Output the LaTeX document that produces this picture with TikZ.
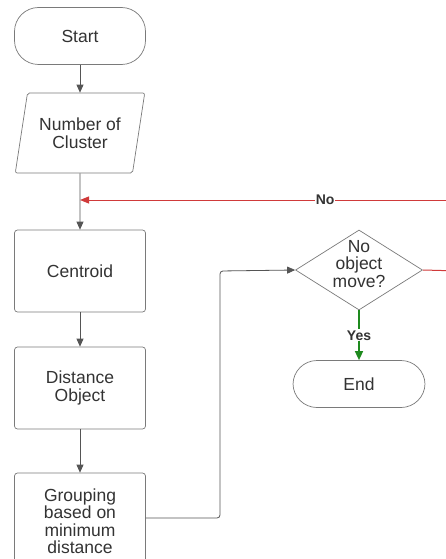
\documentclass[tikz,border=0pt]{standalone}
\usepackage{fontspec}
\setmainfont{Liberation Sans}
\usetikzlibrary{shapes.geometric,arrows.meta}
\definecolor{txt}{HTML}{333333}
\definecolor{edge}{HTML}{7A7A7A}
\definecolor{ln}{HTML}{555555}
\definecolor{redl}{HTML}{D03A3A}
\definecolor{greenl}{HTML}{1E8A1E}
\begin{document}
\begin{tikzpicture}[x=1pt,y=-1pt,
  base/.style={draw=edge,line width=0.7pt,text=txt,font=\fontsize{17.5}{17.5}\selectfont,align=center,inner sep=0pt},
  term/.style={base,rounded corners=24pt,minimum width=131pt},
  proc/.style={base,rounded corners=3pt,minimum width=131pt},
  io/.style={base,trapezium,trapezium left angle=72.6,trapezium right angle=107.4,minimum width=130pt,minimum height=80pt,trapezium stretches=true,rounded corners=2pt},
  dec/.style={base,diamond,minimum width=127pt,minimum height=80pt,aspect=1.6},
  conn/.style={draw=ln,line width=0.8pt,-{Triangle[length=8pt,width=7pt]}},
  lbl/.style={font=\bfseries\fontsize{14}{14}\selectfont,text=txt,inner sep=1pt}
]
\clip (0,0) rectangle (446,559);
\useasboundingbox (0,0) rectangle (446,559);
\fill[white] (0,0) rectangle (446,559);

\node[term,minimum height=57pt] (start) at (80,36) {Start};
\node[io] (num) at (80,133) {Number of\\Cluster};
\node[proc,minimum height=82pt] (cent) at (80,271) {Centroid};
\node[proc,minimum height=82pt] (dist) at (80,388) {Distance\\Object};
\node[proc,minimum height=96pt] (grp) at (80,521) {Grouping\\based on\\minimum\\distance};
\node[dec] (dec) at (359,270) {};
\node[base,draw=none] (dectxt) at (359,264) {No\\object\\move?};
\node[term,minimum height=47pt,minimum width=132pt] (end) at (359,384) {End};

\coordinate (join) at (80,200);
\coordinate (redout) at (460,271);
\coordinate (redin) at (460,200);

\draw[conn] (start) -- (num);
\draw[conn] (num) -- (cent);
\draw[conn] (cent) -- (dist);
\draw[conn] (dist) -- (grp);
\draw[conn,rounded corners=3pt] (grp.east |- 0,518) -- (220,518) -- (220,271) -- (dec.west);
\draw[draw=redl,line width=1pt] (dec.east) -- (redout);
\draw[draw=redl,line width=1pt,-{Triangle[length=9pt,width=7pt]}] (redin) -- node[lbl,fill=white,pos=0.355] {No} (join);
\draw[draw=greenl,line width=1.4pt,-{Triangle[length=9pt,width=8pt]}] (dec.south) -- node[lbl,fill=white] {Yes} (end.north);
\end{tikzpicture}
\end{document}
